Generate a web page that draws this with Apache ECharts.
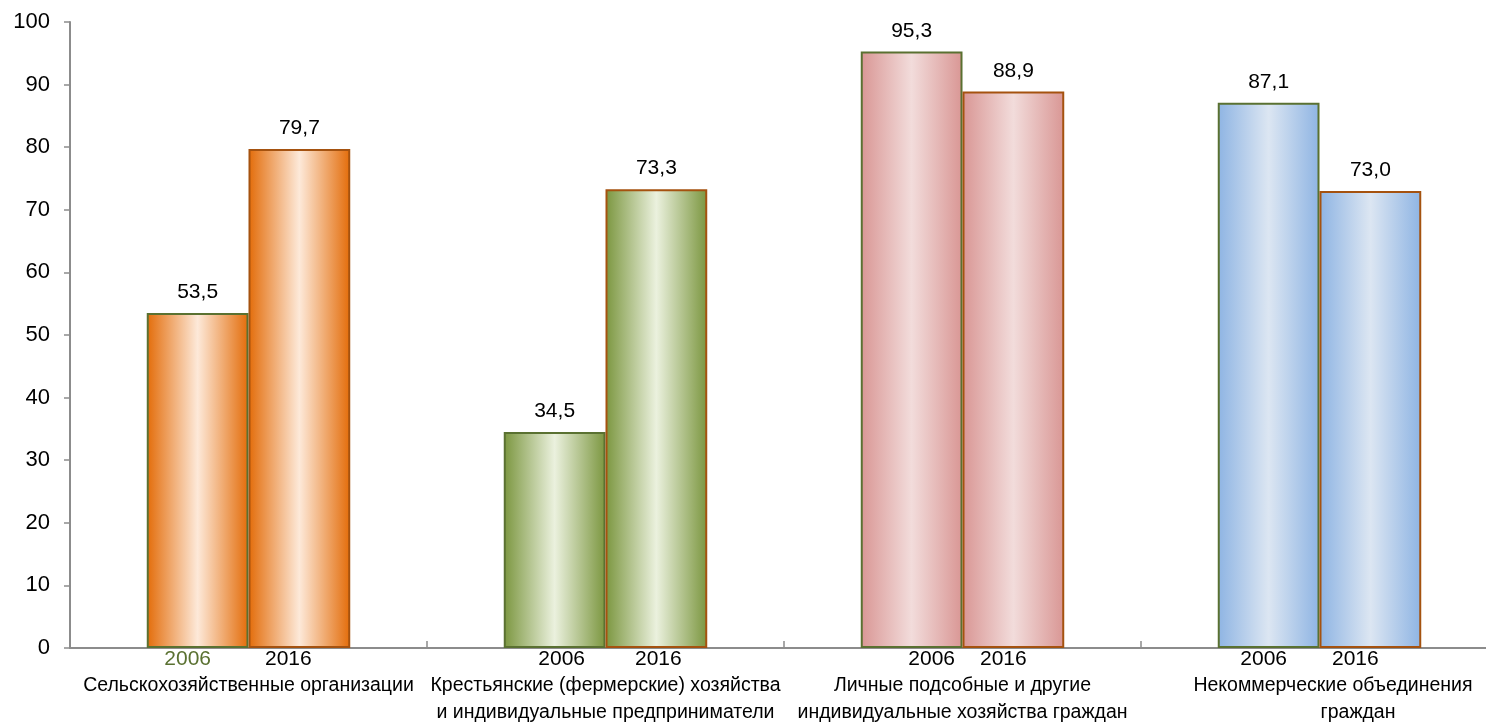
<!DOCTYPE html>
<html>
<head>
<meta charset="utf-8">
<script src="https://cdn.jsdelivr.net/npm/echarts@6/dist/echarts.min.js"></script>
<style>
html,body{margin:0;padding:0;background:#fff;overflow:hidden;}
#chart{width:1486px;height:727px;}
</style>
</head>
<body>
<div id="chart"></div>
<script>
// ---- data ----
const categories = [
  'Сельскохозяйственные организации',
  'Крестьянские (фермерские) хозяйства\nи индивидуальные предприниматели',
  'Личные подсобные и другие\nиндивидуальные хозяйства граждан',
  'Некоммерческие объединения\nграждан'
];
const years = ['2006', '2016'];
const values2006 = [53.5, 34.5, 95.3, 87.1];
const values2016 = [79.7, 73.3, 88.9, 73.0];
const yTicks = [0, 10, 20, 30, 40, 50, 60, 70, 80, 90, 100];

// ---- styles ----
const FONT = '"Liberation Sans", Arial, sans-serif';
const palette = [
  { dark: '#e36c09', light: '#fde9d9' },
  { dark: '#7b963f', light: '#ebf1de' },
  { dark: '#d99694', light: '#f2dcdb' },
  { dark: '#8eb4e3', light: '#dce6f2' }
];
const borderColors = ['#5a7131', '#a5520f'];
const yearLabelColors2006 = ['#5a7131', '#000', '#000', '#000'];
const yearShift2006 = [-10, 7, 20, -5];
const yearShift2016 = [-11, 2, -10, -15];
// per-line left padding for the category labels (shifts centred lines right by half)
const catLinePad = [[0, 0], [0, 0], [0, 0], [27, 77]];

function grad(i) {
  const p = palette[i];
  return new echarts.graphic.LinearGradient(0, 0, 1, 0, [
    { offset: 0, color: p.dark },
    { offset: 0.5, color: p.light },
    { offset: 1, color: p.dark }
  ]);
}
const fmt = v => v.toFixed(1).replace('.', ',');

const chart = echarts.init(document.getElementById('chart'));

function valueSeries(name, vals, stack, bIdx) {
  return {
    name: name,
    type: 'bar',
    stack: stack,
    barCategoryGap: '43%',
    barGap: '0%',
    data: vals,
    itemStyle: {
      color: p => grad(p.dataIndex),
      borderColor: borderColors[bIdx],
      borderWidth: 2
    },
    label: {
      show: true,
      position: 'top',
      distance: 10,
      formatter: p => fmt(p.value),
      color: '#000',
      fontSize: 21,
      fontFamily: FONT
    },
    emphasis: { disabled: true },
    animation: false
  };
}
function yearSeries(yearIdx, stack, shifts, colors) {
  return {
    name: 'год ' + years[yearIdx],
    type: 'bar',
    stack: stack,
    barCategoryGap: '43%',
    barGap: '0%',
    data: categories.map((c, i) => ({
      value: 0,
      label: { offset: [shifts[i], 0], color: colors ? colors[i] : '#000' }
    })),
    itemStyle: { color: 'rgba(0,0,0,0)', borderWidth: 0 },
    label: {
      show: true,
      position: 'bottom',
      distance: 1,
      formatter: () => years[yearIdx],
      color: '#000',
      fontSize: 21,
      fontFamily: FONT
    },
    emphasis: { disabled: true },
    animation: false
  };
}

const lineStyle = (pad) => ({
  color: '#000', fontSize: 19.5, lineHeight: 27, fontFamily: FONT,
  padding: [0, 0, 0, pad]
});
const rich = {};
catLinePad.forEach((pads, ci) => pads.forEach((p, li) => { rich['c' + ci + 'l' + li] = lineStyle(p); }));

chart.setOption({
  animation: false,
  grid: { left: 70, right: -12, top: 22, bottom: 79, containLabel: false, outerBoundsMode: 'none' },
  xAxis: {
    type: 'category',
    data: categories,
    axisLine: { lineStyle: { color: '#8c8c8c', width: 2 } },
    axisTick: { show: true, inside: true, length: 7, lineStyle: { color: '#8c8c8c', width: 1.5 } },
    axisLabel: {
      interval: 0,
      margin: 24,
      color: '#000',
      fontSize: 19.5,
      lineHeight: 27,
      fontFamily: FONT,
      verticalAlign: 'top',
      hideOverlap: false,
      formatter: (val, idx) => val.split('\n')
        .map((line, li) => '{c' + idx + 'l' + li + '|' + line + '}').join('\n'),
      rich: rich
    },
    splitLine: { show: false }
  },
  yAxis: {
    type: 'value',
    min: yTicks[0],
    max: yTicks[yTicks.length - 1],
    interval: yTicks[1] - yTicks[0],
    axisLine: { show: true, lineStyle: { color: '#8c8c8c', width: 2 } },
    axisTick: { show: true, length: 6, lineStyle: { color: '#8c8c8c', width: 1.5 } },
    axisLabel: { color: '#000', fontSize: 22, fontFamily: FONT, margin: 20 },
    splitLine: { show: false }
  },
  series: [
    yearSeries(0, 'a', yearShift2006, yearLabelColors2006),
    valueSeries(years[0], values2006, 'a', 0),
    yearSeries(1, 'b', yearShift2016, null),
    valueSeries(years[1], values2016, 'b', 1)
  ]
});
</script>
</body>
</html>
